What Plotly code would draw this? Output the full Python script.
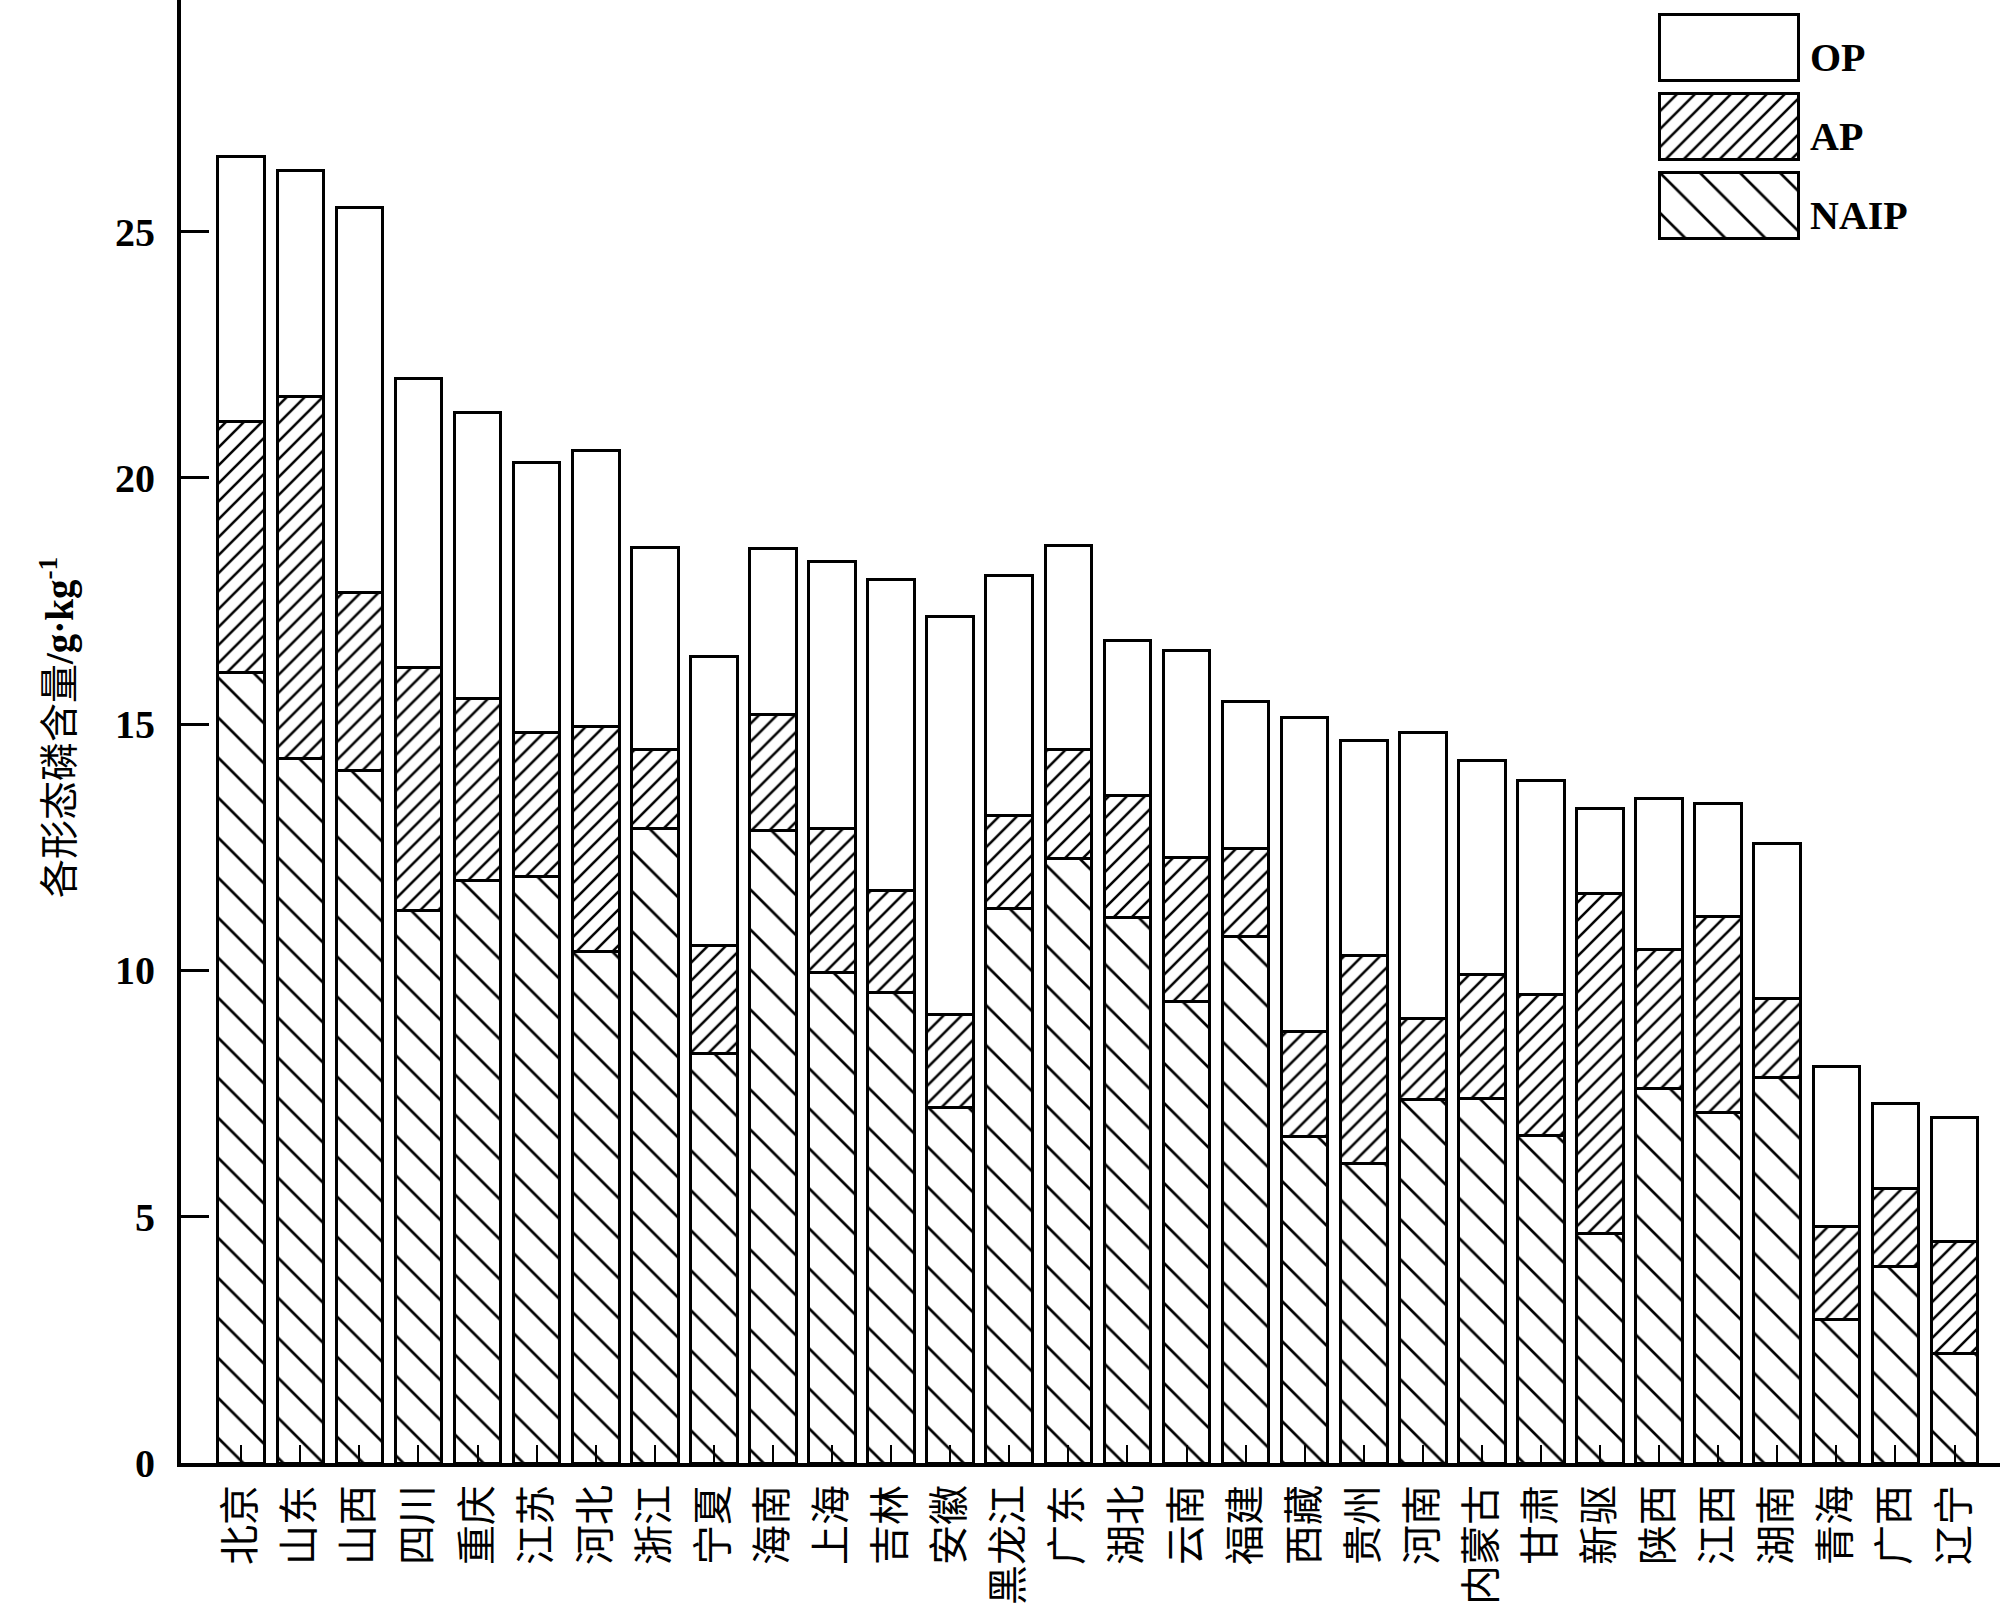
import plotly.graph_objects as go

provinces = ["北京", "山东", "山西", "四川", "重庆", "江苏", "河北", "浙江", "宁夏", "海南",
             "上海", "吉林", "安徽", "黑龙江", "广东", "湖北", "云南", "福建", "西藏", "贵州",
             "河南", "内蒙古", "甘肃", "新驱", "陕西", "江西", "湖南", "青海", "广西", "辽宁"]

naip = [16.05, 14.31, 14.05, 11.21, 11.83, 11.90, 10.38, 12.89, 8.31, 12.84,
        9.96, 9.55, 7.22, 11.26, 12.27, 11.08, 9.37, 10.69, 6.63, 6.08,
        7.38, 7.40, 6.65, 4.66, 7.61, 7.12, 7.82, 2.91, 3.98, 2.23]
ap = [5.09, 7.35, 3.63, 4.94, 3.70, 2.93, 4.58, 1.60, 2.20, 2.35,
      2.93, 2.07, 1.89, 1.89, 2.22, 2.48, 2.92, 1.78, 2.12, 4.22,
      1.65, 2.51, 2.87, 6.91, 2.82, 3.98, 1.60, 1.90, 1.60, 2.26]
op = [5.39, 4.58, 7.81, 5.87, 5.80, 5.49, 5.59, 4.09, 5.87, 3.37,
      5.41, 6.31, 8.07, 4.86, 4.14, 3.13, 4.20, 2.98, 6.39, 4.37,
      5.80, 4.35, 4.33, 1.71, 3.05, 2.28, 3.16, 3.24, 1.71, 2.52]

series_names = ["NAIP", "AP", "OP"]
y_ticks = [0, 5, 10, 15, 20, 25]
y_title = "各形态磷含量<b>/g·kg<sup>-1</sup></b>"

patterns = {
    "NAIP": dict(shape="\\", size=28.3, solidity=0.095, fgcolor="black", bgcolor="white",
                 fillmode="replace", fgopacity=1),
    "AP": dict(shape="/", size=12.7, solidity=0.2, fgcolor="black", bgcolor="white",
               fillmode="replace", fgopacity=1),
    "OP": dict(shape="", fgcolor="black", bgcolor="white"),
}

values = {"NAIP": naip, "AP": ap, "OP": op}

fig = go.Figure()
for name in series_names:
    fig.add_trace(go.Bar(
        x=provinces, y=values[name], name=name, width=0.79,
        marker=dict(color="white", pattern=patterns[name], line=dict(color="black", width=3)),
        showlegend=False,
    ))

# custom legend drawn as an inset of patterned bars
for name in series_names:
    fig.add_trace(go.Bar(
        x=[1], y=[name], orientation="h", xaxis="x2", yaxis="y2", width=0.835,
        marker=dict(color="white", pattern=patterns[name], line=dict(color="black", width=3)),
        showlegend=False, hoverinfo="skip",
    ))

serif = "Liberation Serif, Times New Roman, serif"
cjk = "Noto Sans CJK SC"

annotations = []
for name in series_names:
    annotations.append(dict(
        x=0.8945, xref="paper", y=name, yref="y2", xanchor="left", yanchor="middle",
        yshift=-10, text="<b>%s</b>" % name, showarrow=False,
        font=dict(family=serif, size=40, color="black"),
    ))
annotations.append(dict(
    x=-0.0682, xref="paper", y=0.503, yref="paper", xanchor="center", yanchor="middle",
    textangle=-90, text=y_title, showarrow=False,
    font=dict(family=serif + ", " + cjk, size=39, color="black"),
))

fig.update_layout(
    width=2000, height=1620,
    margin=dict(l=181, r=0, t=0, b=157, pad=0),
    paper_bgcolor="white", plot_bgcolor="white",
    barmode="stack",
    annotations=annotations,
    xaxis=dict(
        type="category", categoryorder="array", categoryarray=provinces,
        range=[-1.02, 29.77], showline=True, linecolor="black", linewidth=4,
        ticks="inside", ticklen=18, tickwidth=2, tickcolor="black",
        tickangle=-90, ticklabelstandoff=2,
        tickfont=dict(family=cjk, size=40, color="black"),
        showgrid=False, zeroline=False,
    ),
    yaxis=dict(
        range=[0, 29.7], tickvals=y_ticks, ticktext=[str(v) for v in y_ticks],
        showline=True, linecolor="black", linewidth=4,
        ticks="inside", ticklen=28, tickwidth=3, tickcolor="black",
        ticklabelstandoff=14,
        tickfont=dict(family=serif, size=40, color="black", weight="bold"),
        showgrid=False, zeroline=False,
    ),
    xaxis2=dict(domain=[0.8105, 0.8915], anchor="y2", range=[-0.03, 1.03], visible=False),
    yaxis2=dict(domain=[0.8325, 0.9945], anchor="x2", range=[-0.5, 2.5], visible=False,
                type="category", categoryorder="array", categoryarray=series_names),
)

fig.write_html("out.html", config={"displayModeBar": False},
               post_script="document.body.style.margin='0px';document.body.style.padding='0px';")
